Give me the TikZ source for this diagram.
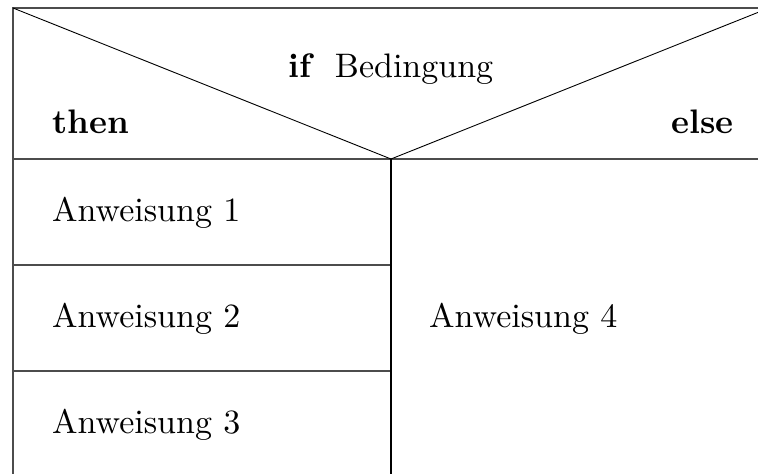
\documentclass[tikz,border=0pt]{standalone}
\newcommand{\bigtxt}[1]{\scalebox{3.4}{#1}}
\begin{document}
\begin{tikzpicture}[x=1pt,y=-1pt,
  frame/.style={draw=black!70,line width=1.1pt},
  diag/.style={draw=black,line width=0.9pt},
  txt/.style={font=\normalsize,inner sep=0pt}]
\useasboundingbox (0,0) rectangle (758,474);
\clip (0,0) rectangle (758,474);
\coordinate (tl) at (13,8);
\coordinate (tr) at (769,8);
\coordinate (bl) at (13,480);
\coordinate (v) at (391,159);
\coordinate (vb) at (391,480);
\coordinate (ml) at (13,159);
\coordinate (mr) at (769,159);
\coordinate (r1l) at (13,265);
\coordinate (r1r) at (391,265);
\coordinate (r2l) at (13,371);
\coordinate (r2r) at (391,371);
\draw[frame] (bl) -- (tl) -- (tr);
\draw[frame] (ml) -- (mr);
\draw[frame] (r1l) -- (r1r);
\draw[frame] (r2l) -- (r2r);
\draw[draw=black,line width=1.3pt] (v) -- (vb);
\draw[diag] (tl) -- (v) -- (tr);
\node[txt,anchor=base] (cond) at (391,77) {\bigtxt{\textbf{if}\hspace{0.6em}Bedingung}};
\node[txt,anchor=base west] (then) at (52,133) {\bigtxt{\textbf{then}}};
\node[txt,anchor=base east] (else) at (734,133) {\bigtxt{\textbf{else}}};
\node[txt,anchor=base west] (a1) at (52,221) {\bigtxt{Anweisung 1}};
\node[txt,anchor=base west] (a2) at (52,327) {\bigtxt{Anweisung 2}};
\node[txt,anchor=base west] (a3) at (52,433) {\bigtxt{Anweisung 3}};
\node[txt,anchor=base west] (a4) at (429,327) {\bigtxt{Anweisung 4}};
\end{tikzpicture}
\end{document}
